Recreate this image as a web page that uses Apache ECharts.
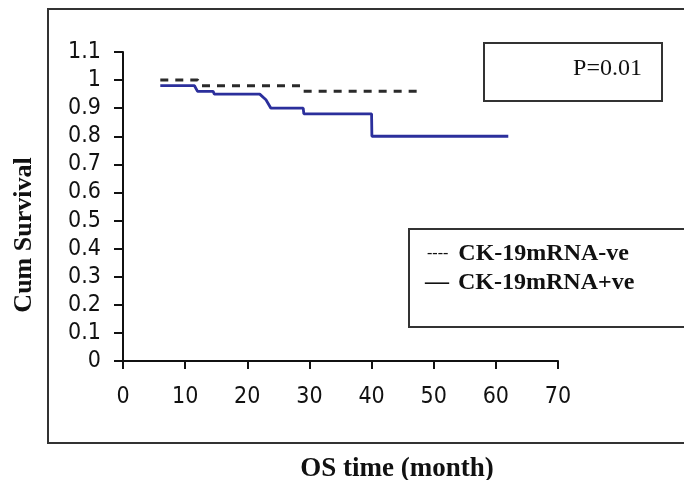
<!DOCTYPE html>
<html>
<head>
<meta charset="utf-8">
<script src="https://cdn.jsdelivr.net/npm/echarts@6/dist/echarts.min.js"></script>
<style>
  html, body { margin: 0; padding: 0; background: #fff; }
  #chart { width: 684px; height: 480px; }
</style>
</head>
<body>
<div id="chart"></div>
<script>
// survival curves (time in months, cumulative survival)
const negTime = [6, 12, 12.5, 28.5, 29, 48];
const negSurv = [1.0, 1.0, 0.98, 0.98, 0.96, 0.96];
const posTime = [6, 11.5, 12, 14.5, 14.7, 22, 23, 23.8, 29, 29.1, 40, 40.05, 62];
const posSurv = [0.98, 0.98, 0.96, 0.96, 0.95, 0.95, 0.93, 0.90, 0.90, 0.88, 0.88, 0.80, 0.80];
const xTicks = [0, 10, 20, 30, 40, 50, 60, 70];
const yTicks = ['0', '0.1', '0.2', '0.3', '0.4', '0.5', '0.6', '0.7', '0.8', '0.9', '1', '1.1'];
const legendNames = ['CK-19mRNA-ve', 'CK-19mRNA+ve'];
const pText = 'P=0.01';

const pair = (xs, ys) => xs.map((x, i) => [x, ys[i]]);

const chartDom = document.getElementById('chart');
const myChart = echarts.init(chartDom);

const tickFont = {
    color: '#111',
    fontSize: 23,
    fontFamily: '"Liberation Sans Narrow", "DejaVu Sans Condensed", sans-serif'
};
const serif = '"Liberation Serif", "DejaVu Serif", serif';

const option = {
    animation: false,
    grid: {
        left: 123,
        right: 126,
        top: 52,
        bottom: 119
    },
    xAxis: {
        type: 'value',
        min: xTicks[0],
        max: xTicks[xTicks.length - 1],
        interval: 10,
        axisLine: { lineStyle: { color: '#111', width: 2 } },
        axisTick: { show: true, length: 8, lineStyle: { color: '#111', width: 2 } },
        axisLabel: Object.assign({ margin: 25 }, tickFont),
        splitLine: { show: false }
    },
    yAxis: {
        type: 'value',
        min: 0,
        max: 1.1,
        interval: 0.1,
        axisLine: { show: true, lineStyle: { color: '#111', width: 2 } },
        axisTick: { show: true, length: 9, lineStyle: { color: '#111', width: 2 } },
        axisLabel: Object.assign({
            margin: 22,
            formatter: (v) => yTicks[Math.round(v * 10)]
        }, tickFont),
        splitLine: { show: false }
    },
    series: [
        {
            name: legendNames[0],
            type: 'line',
            data: pair(negTime, negSurv),
            showSymbol: false,
            lineStyle: { color: '#2a2a2a', width: 3, type: [8, 7] },
            z: 3
        },
        {
            name: legendNames[1],
            type: 'line',
            data: pair(posTime, posSurv),
            showSymbol: false,
            lineStyle: { color: '#2b2f9c', width: 2.8 },
            z: 2
        }
    ],
    graphic: [
        // outer frame
        {
            type: 'rect',
            shape: { x: 48, y: 9, width: 680, height: 434 },
            style: { fill: 'none', stroke: '#333', lineWidth: 2 },
            silent: true
        },
        // p-value box
        {
            type: 'rect',
            shape: { x: 484, y: 43, width: 178, height: 58 },
            style: { fill: '#fff', stroke: '#333', lineWidth: 2 },
            z: 10
        },
        {
            type: 'text',
            x: 642, y: 69,
            style: {
                text: pText, fill: '#111', fontSize: 24, fontFamily: serif,
                align: 'right', verticalAlign: 'middle'
            },
            z: 11
        },
        // legend box
        {
            type: 'rect',
            shape: { x: 409, y: 229, width: 300, height: 98 },
            style: { fill: '#fff', stroke: '#333', lineWidth: 2 },
            z: 10
        },
        {
            type: 'text',
            x: 427, y: 254,
            style: {
                text: '{d|----}{s|}{b|' + legendNames[0] + '}',
                verticalAlign: 'middle',
                rich: {
                    d: { fontSize: 16, fontFamily: serif, fill: '#111' },
                    s: { width: 10 },
                    b: { fontSize: 24, fontWeight: 'bold', fontFamily: serif, fill: '#111' }
                }
            },
            z: 11
        },
        {
            type: 'text',
            x: 425, y: 283,
            style: {
                text: '{d|\u2014}{s|}{b|' + legendNames[1] + '}',
                verticalAlign: 'middle',
                rich: {
                    d: { fontSize: 24, fontWeight: 'bold', fontFamily: serif, fill: '#111' },
                    s: { width: 9 },
                    b: { fontSize: 24, fontWeight: 'bold', fontFamily: serif, fill: '#111' }
                }
            },
            z: 11
        },
        // axis titles
        {
            type: 'text',
            x: 397, y: 469,
            style: {
                text: 'OS time (month)', fill: '#111', fontSize: 27, fontWeight: 'bold',
                fontFamily: serif, align: 'center', verticalAlign: 'middle'
            }
        },
        {
            type: 'text',
            x: 24, y: 235,
            rotation: Math.PI / 2,
            style: {
                text: 'Cum Survival', fill: '#111', fontSize: 26, fontWeight: 'bold',
                fontFamily: serif, align: 'center', verticalAlign: 'middle'
            }
        }
    ]
};
myChart.setOption(option);
</script>
</body>
</html>
